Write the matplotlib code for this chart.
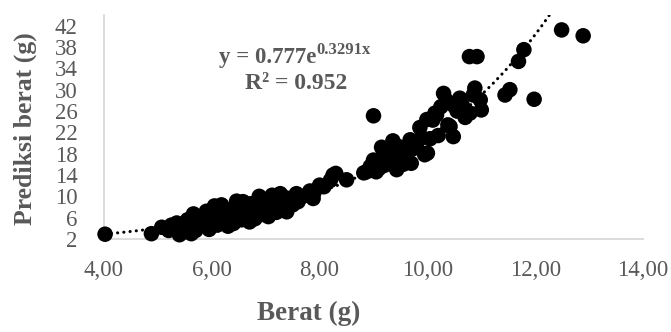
import matplotlib
matplotlib.use("Agg")
import matplotlib.pyplot as plt
import numpy as np

# Data
berat = [4.02, 4.88, 5.07, 5.20, 5.35, 5.40, 5.45, 5.50, 5.55, 5.60, 5.66, 5.70, 5.72, 5.80,
         5.85, 5.90, 5.95, 6.00, 6.05, 6.10, 6.12, 6.20, 6.25, 6.30, 6.35, 6.40, 6.46, 6.50,
         6.55, 6.60, 6.65, 6.70, 6.75, 6.80, 6.88, 6.90, 6.95, 7.00, 7.05, 7.10, 7.15, 7.20,
         7.27, 7.30, 7.39, 7.45, 7.50, 7.57, 7.65, 7.75, 7.88, 7.90, 8.00, 8.25, 8.30, 8.50,
         8.82, 8.87, 8.94, 9.00, 9.00, 9.05, 9.10, 9.15, 9.18, 9.25, 9.30, 9.36, 9.43, 9.45,
         9.50, 9.55, 9.61, 9.68, 9.75, 9.80, 9.86, 9.90, 9.95, 9.99, 10.00, 10.05, 10.10, 10.14,
         10.17, 10.30, 10.38, 10.42, 10.48, 10.48, 10.55, 10.60, 10.70, 10.79, 10.78, 10.92,
         10.88, 10.98, 11.00, 11.44, 11.53, 11.69, 11.79, 11.98, 12.49, 12.89,
         5.25, 5.62, 5.78, 6.02, 6.18, 6.28, 6.42, 6.58, 6.72, 6.85, 7.02, 7.12, 7.35, 7.60,
         7.82, 8.08, 8.20, 9.20, 9.35, 9.65, 9.70, 10.20, 10.25, 10.35, 10.65, 10.85]
prediksi = [2.9, 3.0, 4.2, 3.6, 5.0, 2.8, 4.1, 3.4, 5.6, 4.4, 6.7, 3.6, 5.2, 4.6,
            6.2, 7.2, 3.8, 5.4, 8.2, 4.6, 6.6, 5.8, 7.6, 4.4, 6.2, 4.9, 9.1, 7.0,
            5.6, 8.0, 6.4, 5.2, 7.4, 5.8, 10.0, 8.4, 6.6, 7.8, 6.2, 9.4, 8.2, 7.0,
            10.5, 8.8, 7.1, 9.6, 8.4, 10.5, 9.8, 10.2, 9.6, 10.8, 12.1, 14.0, 14.3, 13.1,
            14.4, 14.6, 15.6, 16.8, 25.1, 14.6, 15.2, 19.2, 17.6, 16.8, 18.4, 20.4, 15.0, 19.4,
            17.2, 16.0, 17.4, 20.6, 19.0, 19.3, 22.9, 21.0, 17.8, 24.4, 18.1, 20.8, 24.3, 25.6,
            25.3, 29.3, 23.4, 23.1, 27.1, 21.2, 26.0, 28.4, 24.8, 25.6, 36.2, 36.2,
            30.3, 28.1, 26.2, 29.0, 30.0, 35.3, 37.5, 28.2, 41.2, 40.1,
            4.6, 3.0, 6.0, 7.0, 8.4, 6.8, 7.8, 9.0, 8.6, 7.2, 9.2, 10.2, 9.8, 9.0,
            11.0, 11.8, 13.0, 15.8, 17.0, 18.4, 16.2, 21.4, 26.8, 28.0, 27.0, 29.0]

trend_a = 0.777
trend_b = 0.3291
equation_text = "y = 0.777e"
equation_exp = "0.3291x"
r2_text = "R\u00b2 = 0.952"
x_ticks = [4, 6, 8, 10, 12, 14]
x_tick_labels = ["4,00", "6,00", "8,00", "10,00", "12,00", "14,00"]
y_ticks = [2, 6, 10, 14, 18, 22, 26, 30, 34, 38, 42]

grey = "#595959"
serif = "Liberation Serif"

fig = plt.figure(figsize=(6.71, 3.32), dpi=100)
ax = fig.add_axes([104 / 671, 1 - 239 / 332, (643 - 104) / 671, (239 - 15) / 332])

ax.scatter(berat, prediksi, s=125, color="black", edgecolors="none", zorder=2, clip_on=False)

xt = np.linspace(min(berat), max(berat), 400)
ax.plot(xt, trend_a * np.exp(trend_b * xt), color="black", lw=2.2,
        linestyle=(0, (0.05, 2.0)), dash_capstyle="round", zorder=3)

ax.set_xlim(4, 14)
ax.set_ylim(2, 44)
ax.set_xticks(x_ticks)
ax.set_xticklabels(x_tick_labels)
ax.set_yticks(y_ticks)
for s in ["top", "right"]:
    ax.spines[s].set_visible(False)
for s in ["left", "bottom"]:
    ax.spines[s].set_color("#d9d9d9")
    ax.spines[s].set_linewidth(1.3)
    ax.spines[s].set_zorder(1)
ax.tick_params(axis="both", length=0, colors=grey, labelsize=16.5)
ax.tick_params(axis="x", pad=15)
ax.tick_params(axis="y", pad=19)
for lbl in ax.get_xticklabels() + ax.get_yticklabels():
    lbl.set_fontfamily(serif)

fig.text(25 / 671, 1 - 129 / 332, "Prediksi berat (g)", rotation=90, ha="center", va="center",
         fontsize=18.5, fontweight="bold", family=serif, color=grey)
fig.text(309 / 671, 1 - 313 / 332, "Berat (g)", ha="center", va="center",
         fontsize=19.5, fontweight="bold", family=serif, color=grey)

t1 = fig.text(219 / 671, 1 - 63 / 332, equation_text, ha="left", va="baseline",
              fontsize=16.5, fontweight="bold", family=serif, color=grey)
ax.annotate(equation_exp, xy=(1, 0.5), xycoords=t1, ha="left", va="bottom",
            fontsize=12, fontweight="bold", family=serif, color=grey)
fig.text(296 / 671, 1 - 89 / 332, r2_text, ha="center", va="baseline",
         fontsize=17, fontweight="bold", family=serif, color=grey)

fig.savefig("out.png", dpi=100)
